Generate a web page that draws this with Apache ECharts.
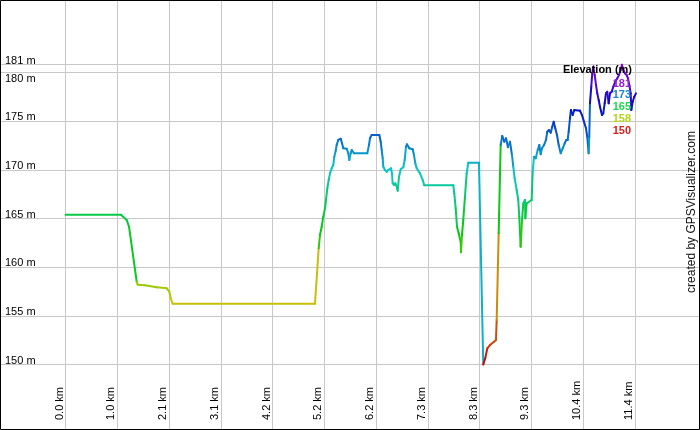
<!DOCTYPE html>
<html><head><meta charset="utf-8">
<script src="https://cdn.jsdelivr.net/npm/echarts@6/dist/echarts.min.js"></script>
<style>html,body{margin:0;padding:0;background:#fff}#c{width:700px;height:430px}</style>
</head><body><div id="c"></div>
<script>
const distanceKm = [0, 1.113, 1.227, 1.274, 1.428, 1.448, 1.594, 1.829, 2.030, 2.082,
  2.110, 2.150, 5.004, 5.078, 5.104, 5.138, 5.170, 5.205, 5.225, 5.251,
  5.279, 5.305, 5.339, 5.371, 5.391, 5.419, 5.439, 5.471, 5.520, 5.546,
  5.572, 5.640, 5.672, 5.692, 5.720, 5.740, 5.786, 6.053, 6.087, 6.107,
  6.141, 6.294, 6.322, 6.342, 6.362, 6.374, 6.408, 6.442, 6.474, 6.528,
  6.548, 6.562, 6.588, 6.615, 6.643, 6.663, 6.689, 6.723, 6.775, 6.803,
  6.829, 6.849, 6.895, 6.963, 6.990, 7.016, 7.044, 7.110, 7.164, 7.196,
  7.778, 7.798, 7.826, 7.852, 7.886, 7.926, 7.932, 7.952, 7.978, 8.012,
  8.046, 8.079, 8.293, 8.379, 8.419, 8.460, 8.514, 8.594, 8.634, 8.648,
  8.688, 8.728, 8.760, 8.801, 8.835, 8.875, 8.915, 8.955, 8.981, 9.009,
  9.049, 9.081, 9.101, 9.129, 9.156, 9.182, 9.216, 9.222, 9.250, 9.350,
  9.370, 9.397, 9.431, 9.471, 9.503, 9.531, 9.557, 9.597, 9.637, 9.663,
  9.697, 9.731, 9.763, 9.791, 9.823, 9.858, 9.892, 9.932, 9.972, 10.012,
  10.044, 10.072, 10.092, 10.118, 10.138, 10.173, 10.205, 10.319, 10.359, 10.399,
  10.439, 10.465, 10.493, 10.505, 10.519, 10.545, 10.565, 10.585, 10.614, 10.640,
  10.666, 10.694, 10.720, 10.760, 10.786, 10.814, 10.840, 10.866, 10.894, 10.921,
  10.955, 10.987, 11.027, 11.067, 11.101, 11.135, 11.161, 11.188, 11.222, 11.256,
  11.282, 11.308, 11.336, 11.348, 11.376, 11.408, 11.442];
const elevationM = [165.39, 165.39, 164.85, 164.16, 158.51, 158.20, 158.14, 157.93, 157.83, 157.48,
  156.80, 156.25, 156.25, 161.94, 163.30, 164.16, 165.19, 166.05, 166.90, 168.10,
  168.96, 169.64, 170.16, 170.50, 171.35, 171.94, 172.55, 173.07, 173.20, 172.73,
  172.21, 172.17, 171.70, 171.01, 171.70, 172.04, 171.70, 171.70, 172.55, 173.24,
  173.58, 173.58, 172.89, 172.04, 171.18, 170.32, 169.98, 169.81, 169.98, 170.16,
  169.64, 168.62, 168.44, 168.62, 168.27, 167.86, 169.29, 170.06, 170.26, 171.01,
  172.38, 172.62, 172.21, 172.11, 171.52, 170.67, 170.16, 169.64, 168.96, 168.41,
  168.41, 167.59, 166.05, 164.16, 163.48, 162.62, 161.53, 163.30, 164.85, 167.24,
  169.64, 170.73, 170.73, 150.00, 150.64, 151.66, 152.00, 152.34, 152.52, 154.57,
  163.48, 172.55, 173.48, 172.89, 173.24, 172.32, 172.89, 171.52, 170.32, 169.13,
  167.93, 166.90, 165.19, 162.10, 164.85, 166.56, 166.90, 165.02, 166.56, 166.90,
  169.78, 171.35, 171.18, 172.04, 172.55, 171.60, 172.21, 172.55, 173.07, 173.92,
  174.09, 173.82, 174.43, 174.95, 174.27, 173.58, 172.55, 171.70, 172.21, 172.73,
  173.07, 173.07, 173.92, 175.29, 176.15, 175.63, 176.15, 176.08, 175.63, 174.95,
  174.27, 173.40, 171.70, 173.40, 176.84, 178.54, 179.92, 180.60, 179.74, 178.72,
  177.86, 177.18, 176.49, 175.63, 175.81, 176.84, 177.86, 178.03, 176.84, 177.86,
  178.03, 178.54, 179.06, 179.40, 179.74, 180.26, 180.80, 180.26, 179.92, 179.74,
  179.40, 178.72, 177.86, 176.15, 177.00, 177.51, 177.86];

const xTickLabels = ['0.0 km', '1.0 km', '2.1 km', '3.1 km', '4.2 km', '5.2 km',
  '6.2 km', '7.3 km', '8.3 km', '9.3 km', '10.4 km', '11.4 km'];
const xTickStepKm = 1.038;
const yGridValues = [150, 155, 160, 165, 170, 175, 180, 180.8];
const yLabelsAbove = [150, 155, 160, 165, 170, 175, 180.8];
const yLabelsBelow = [180];
const legendTitle = 'Elevation (m)';
const legendLevels = [181, 173, 165, 158, 150];
const scaleMin = 150, scaleMax = 181;
const creditText = 'created by GPSVisualizer.com';

function hueFor(v) {
  const t = Math.max(0, Math.min(1, (v - scaleMin) / (scaleMax - scaleMin)));
  return t * 280;
}
function lineColor(v) { return 'hsl(' + hueFor(v).toFixed(1) + ',92%,41%)'; }
function legendColor(v) { return 'hsl(' + hueFor(v).toFixed(1) + ',75%,48%)'; }

const xTickValues = xTickLabels.map((_, i) => +(i * xTickStepKm).toFixed(3));
const segments = [];
for (let i = 0; i < distanceKm.length - 1; i++) {
  segments.push([distanceKm[i], elevationM[i], distanceKm[i + 1], elevationM[i + 1]]);
}

const FONT = '"Liberation Sans", Arial, sans-serif';
const chart = echarts.init(document.getElementById('c'), null, {renderer: 'canvas'});

const legendGraphics = [{
  type: 'text', x: 632, y: 70, z: 50,
  style: {text: legendTitle, fill: '#000', font: 'bold 11px ' + FONT, textAlign: 'right', textVerticalAlign: 'middle'}
}];
legendLevels.forEach((lv, i) => {
  legendGraphics.push({
    type: 'text', x: 631, y: 83.5 + i * 11.8, z: 50,
    style: {text: String(lv), fill: legendColor(lv), font: 'bold 11px ' + FONT, textAlign: 'right', textVerticalAlign: 'middle'}
  });
});

chart.setOption({
  animation: false,
  backgroundColor: '#fff',
  grid: {left: 0, right: 0, top: 0, bottom: 0, containLabel: false, outerBoundsMode: 'none'},
  xAxis: {
    type: 'value', min: -1.3137, max: 12.726,
    axisLine: {show: false},
    axisTick: {show: false, customValues: xTickValues},
    splitLine: {show: true, lineStyle: {color: '#c8c8c8', width: 1}},
    axisLabel: {
      show: true, inside: true, rotate: 90, margin: 10,
      customValues: xTickValues,
      align: 'left', verticalAlign: 'bottom',
      color: '#000', fontSize: 11, fontFamily: FONT, lineHeight: 12,
      formatter: (v) => xTickLabels[Math.round(v / xTickStepKm)]
    }
  },
  yAxis: [{
    type: 'value', min: 143.27, max: 187.45, position: 'left',
    axisLine: {show: false},
    axisTick: {show: false, customValues: yGridValues},
    splitLine: {show: true, lineStyle: {color: '#c8c8c8', width: 1}},
    axisLabel: {
      show: true, inside: true, margin: 5,
      customValues: yLabelsAbove,
      align: 'left', verticalAlign: 'bottom',
      color: '#000', fontSize: 11, fontFamily: FONT, lineHeight: 8,
      formatter: (v) => Math.round(v) + ' m'
    }
  }, {
    type: 'value', min: 143.27, max: 187.45, position: 'left', offset: 0,
    axisLine: {show: false},
    axisTick: {show: false, customValues: yLabelsBelow},
    splitLine: {show: false},
    axisLabel: {
      show: true, inside: true, margin: 5,
      customValues: yLabelsBelow,
      align: 'left', verticalAlign: 'top',
      color: '#000', fontSize: 11, fontFamily: FONT, lineHeight: 13,
      formatter: (v) => Math.round(v) + ' m'
    }
  }],
  series: [{
    type: 'custom',
    coordinateSystem: 'cartesian2d',
    xAxisIndex: 0, yAxisIndex: 0,
    data: segments,
    encode: {x: [0, 2], y: [1, 3]},
    z: 10,
    renderItem: function (params, api) {
      const p1 = api.coord([api.value(0), api.value(1)]);
      const p2 = api.coord([api.value(2), api.value(3)]);
      return {
        type: 'line',
        shape: {x1: p1[0], y1: p1[1], x2: p2[0], y2: p2[1]},
        style: {stroke: lineColor(api.value(1)), lineWidth: 2, lineCap: 'round'}
      };
    }
  }],
  graphic: legendGraphics.concat([{
    type: 'text', x: 692, y: 212, rotation: Math.PI / 2, z: 50,
    style: {text: creditText, fill: '#111', font: '12px ' + FONT, textAlign: 'center', textVerticalAlign: 'middle'}
  }, {
    type: 'rect', z: 100, silent: true,
    shape: {x: 0.5, y: 0.5, width: 699, height: 429},
    style: {fill: 'none', stroke: '#000', lineWidth: 1}
  }])
});
</script>
</body></html>
